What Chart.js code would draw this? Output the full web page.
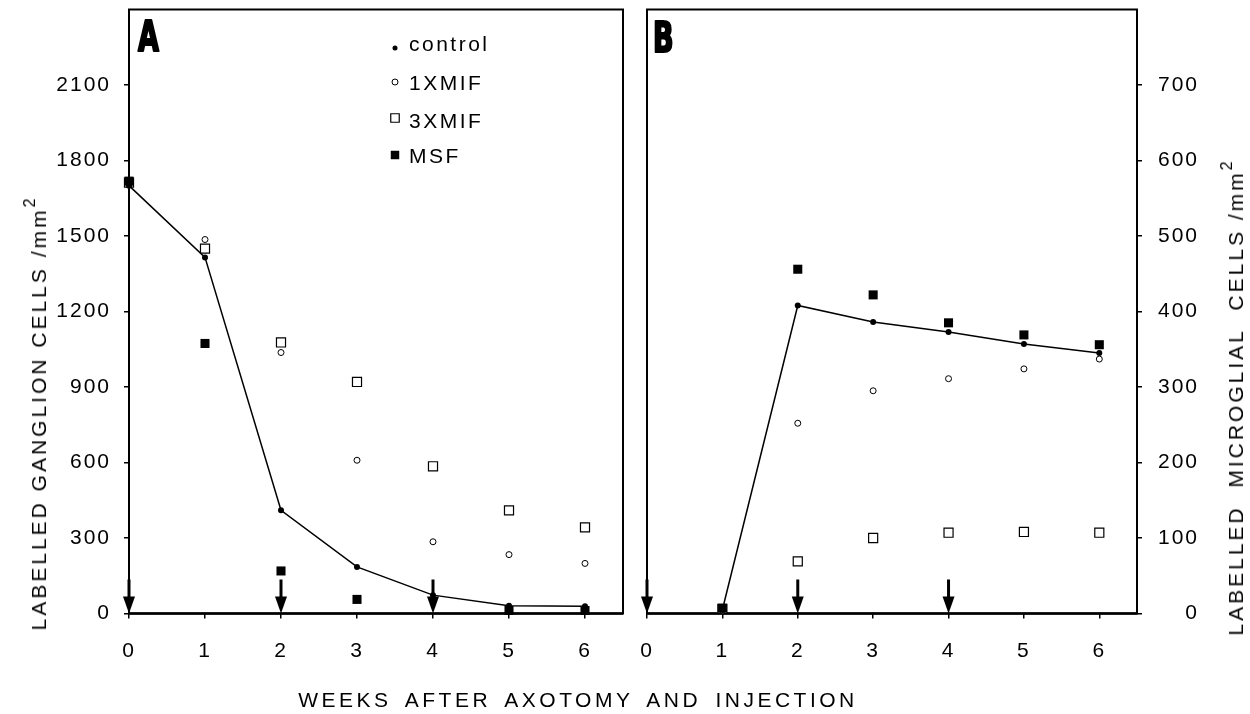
<!DOCTYPE html>
<html>
<head>
<meta charset="utf-8">
<script src="https://cdn.jsdelivr.net/npm/chart.js@4.4.1/dist/chart.umd.min.js"></script>
<style>
  html, body { margin: 0; padding: 0; background: #fff; }
  #wrap { position: relative; width: 1250px; height: 714px; overflow: hidden;
          font-family: "Liberation Sans", Arial, sans-serif; color: #000; }
  #chartA { position: absolute; left: 0; top: 0; }
  #chartB { position: absolute; left: 634px; top: 0; }
  .ytitle { position: absolute; white-space: nowrap; font-size: 21px; letter-spacing: 3px;
            line-height: 24px; transform: translate(-50%, -50%) rotate(-90deg); }
  .ytitle sup { font-size: 16px; vertical-align: 0; position: relative; top: -0.7em; }
  #xtitle { position: absolute; left: 0; width: 1156px; top: 688px; text-align: center;
            font-size: 21px; letter-spacing: 3.5px; word-spacing: 5px; line-height: 24px; }
</style>
</head>
<body>
<div id="wrap">
  <canvas id="chartA" width="634" height="714"></canvas>
  <canvas id="chartB" width="616" height="714"></canvas>
  <div class="ytitle" style="left:40px; top:413px;">LABELLED GANGLION CELLS /mm<sup>2</sup></div>
  <div class="ytitle" style="left:1237px; top:397px;">LABELLED&nbsp; MICROGLIAL&nbsp; CELLS /mm<sup>2</sup></div>
  <div id="xtitle">WEEKS AFTER AXOTOMY AND INJECTION</div>
</div>
<script>
// weeks after axotomy
const weeks = [0, 1, 2, 3, 4, 5, 6];
const weekTicks = [0, 1, 2, 3, 4, 5, 6];
const seriesNames = ['control', '1XMIF', '3XMIF', 'MSF'];

// A: labelled ganglion cells /mm2
const ganglionTicks = [0, 300, 600, 900, 1200, 1500, 1800, 2100];
const ganglionControl = [1700, 1415, 410, 185, 73, 31, 29];
const ganglion1XMIF = [1706, 1486, 1037, 609, 285, 234, 199];
const ganglion3XMIF = [1712, 1450, 1077, 920, 585, 410, 342];
const ganglionMSF = [1718, 1073, 169, 56, null, 12, 12];

// B: labelled microglial cells /mm2
const microTicks = [0, 100, 200, 300, 400, 500, 600, 700];
const microControl = [null, 5, 408, 386, 373, 357, 345];
const micro1XMIF = [null, 4, 252, 295, 311, 324, 337];
const micro3XMIF = [null, 6, 69, 100, 107, 108, 107];
const microMSF = [null, 7, 456, 422, 385, 369, 356];

// injection times
const arrowWeeks = [0, 2, 4];

const FONT = '"Liberation Sans", Arial, sans-serif';

function toPoints(values) {
  return weeks.map((w, i) => ({ x: w, y: values[i] }));
}

function makeDatasets(control, x1, x3, msf) {
  return [
    { label: seriesNames[3], data: toPoints(msf), showLine: false, pointStyle: 'rect',
      pointRadius: 6.4, pointBackgroundColor: '#000', pointBorderColor: '#000', pointBorderWidth: 0, clip: false },
    { label: seriesNames[0], data: toPoints(control), showLine: true, borderColor: '#000', borderWidth: 1.5,
      pointStyle: 'circle', pointRadius: 3, pointBackgroundColor: '#000', pointBorderWidth: 0, clip: false },
    { label: seriesNames[1], data: toPoints(x1), showLine: false, pointStyle: 'circle',
      pointRadius: 3, pointBackgroundColor: '#fff', pointBorderColor: '#000', pointBorderWidth: 1, clip: false },
    { label: seriesNames[2], data: toPoints(x3), showLine: false, pointStyle: 'rect',
      pointRadius: 6.4, pointBackgroundColor: '#fff', pointBorderColor: '#000', pointBorderWidth: 1.2, clip: false }
  ];
}

const spacingPlugin = {
  id: 'spacing',
  beforeDraw(chart) { chart.ctx.letterSpacing = '2px'; }
};

const framePlugin = {
  id: 'frame',
  beforeDatasetsDraw(chart) {
    const a = chart.chartArea;
    const ctx = chart.ctx;
    ctx.save();
    ctx.strokeStyle = '#000';
    ctx.lineWidth = 2;
    ctx.strokeRect(a.left, a.top, a.right - a.left, a.bottom - a.top);
    ctx.lineWidth = 2.5;
    ctx.beginPath();
    ctx.moveTo(a.left, a.bottom);
    ctx.lineTo(a.right, a.bottom);
    ctx.stroke();
    ctx.restore();
  }
};

const arrowPlugin = {
  id: 'arrows',
  afterDatasetsDraw(chart) {
    const ctx = chart.ctx;
    const xs = chart.scales.x;
    const y0 = chart.scales.y.getPixelForValue(0);
    ctx.save();
    ctx.fillStyle = '#000';
    ctx.strokeStyle = '#000';
    arrowWeeks.forEach(w => {
      const x = xs.getPixelForValue(w);
      ctx.lineWidth = 3;
      ctx.beginPath();
      ctx.moveTo(x, y0 - 34);
      ctx.lineTo(x, y0 - 14);
      ctx.stroke();
      ctx.beginPath();
      ctx.moveTo(x - 6, y0 - 17);
      ctx.lineTo(x + 6, y0 - 17);
      ctx.lineTo(x, y0);
      ctx.closePath();
      ctx.fill();
    });
    ctx.restore();
  }
};

function panelLetter(letter, x, yBottom) {
  return {
    id: 'letter' + letter,
    afterDraw(chart) {
      const ctx = chart.ctx;
      ctx.save();
      ctx.letterSpacing = '0px';
      ctx.fillStyle = '#000';
      ctx.strokeStyle = '#000';
      ctx.lineWidth = 1.6;
      ctx.lineJoin = 'round';
      ctx.font = 'bold 30px "DejaVu Sans Condensed", "Liberation Sans Narrow", sans-serif';
      ctx.textBaseline = 'alphabetic';
      ctx.translate(x + 1, yBottom - 1);
      ctx.scale(1.0, 1.4);
      ctx.fillText(letter, 0, 0);
      ctx.strokeText(letter, 0, 0);
      ctx.restore();
    }
  };
}

const legendPlugin = {
  id: 'seriesLegend',
  afterDraw(chart) {
    const ctx = chart.ctx;
    const H = Chart.helpers;
    const rows = [
      { style: 'circle', r: 2.5, fill: '#000', bw: 0, my: 48, ty: 51 },
      { style: 'circle', r: 3, fill: '#fff', bw: 1, my: 82, ty: 90 },
      { style: 'rect', r: 6, fill: '#fff', bw: 1.2, my: 118, ty: 128 },
      { style: 'rect', r: 6, fill: '#000', bw: 0, my: 155, ty: 163 }
    ];
    ctx.save();
    rows.forEach((r, i) => {
      ctx.fillStyle = r.fill;
      ctx.strokeStyle = '#000';
      ctx.lineWidth = r.bw;
      H.drawPoint(ctx, { pointStyle: r.style, radius: r.r, borderWidth: r.bw }, 395, r.my);
      ctx.fillStyle = '#000';
      ctx.letterSpacing = '2.5px';
      ctx.font = '21px ' + FONT;
      ctx.textAlign = 'left';
      ctx.textBaseline = 'alphabetic';
      ctx.fillText(seriesNames[i], 409, r.ty);
    });
    ctx.restore();
  }
};

function makeOptions(yMax, yTicks, yPos, padLeft, padRight, yWidth) {
  return {
    responsive: false,
    animation: false,
    events: [],
    layout: { padding: { left: padLeft, right: padRight, top: 9.5, bottom: 0 } },
    plugins: { legend: { display: false }, tooltip: { enabled: false } },
    scales: {
      x: {
        type: 'linear', min: 0, max: 6.5,
        afterBuildTicks: s => { s.ticks = weekTicks.map(v => ({ value: v })); },
        afterFit: s => { s.height = 100.5; s.paddingLeft = 0; s.paddingRight = 0; },
        border: { display: false },
        grid: { display: true, drawOnChartArea: false, drawTicks: true, tickLength: 5, color: '#000', lineWidth: 1.5 },
        ticks: { color: '#000', font: { family: FONT, size: 21 }, padding: 20, maxRotation: 0, autoSkip: false,
                 callback: v => String(v) }
      },
      y: {
        type: 'linear', position: yPos, min: 0, max: yMax,
        afterBuildTicks: s => { s.ticks = yTicks.map(v => ({ value: v })); },
        afterFit: s => { s.width = yWidth; s.paddingTop = 0; s.paddingBottom = 0; },
        border: { display: false },
        grid: { display: true, drawOnChartArea: false, drawTicks: true, tickLength: 5, color: '#000', lineWidth: 1.5 },
        ticks: { color: '#000', font: { family: FONT, size: 21 }, padding: 13, autoSkip: false,
                 crossAlign: yPos === 'right' ? 'far' : 'near', callback: v => String(v) }
      }
    }
  };
}

new Chart(document.getElementById('chartA'), {
  type: 'scatter',
  data: { datasets: makeDatasets(ganglionControl, ganglion1XMIF, ganglion3XMIF, ganglionMSF) },
  options: makeOptions(2400, ganglionTicks, 'left', 0, 11, 129),
  plugins: [spacingPlugin, framePlugin, arrowPlugin, panelLetter('A', 137, 52), legendPlugin]
});

new Chart(document.getElementById('chartB'), {
  type: 'scatter',
  data: { datasets: makeDatasets(microControl, micro1XMIF, micro3XMIF, microMSF) },
  options: makeOptions(800, microTicks, 'right', 13, 51, 62),
  plugins: [spacingPlugin, framePlugin, arrowPlugin, panelLetter('B', 18, 53)]
});
</script>
</body>
</html>
